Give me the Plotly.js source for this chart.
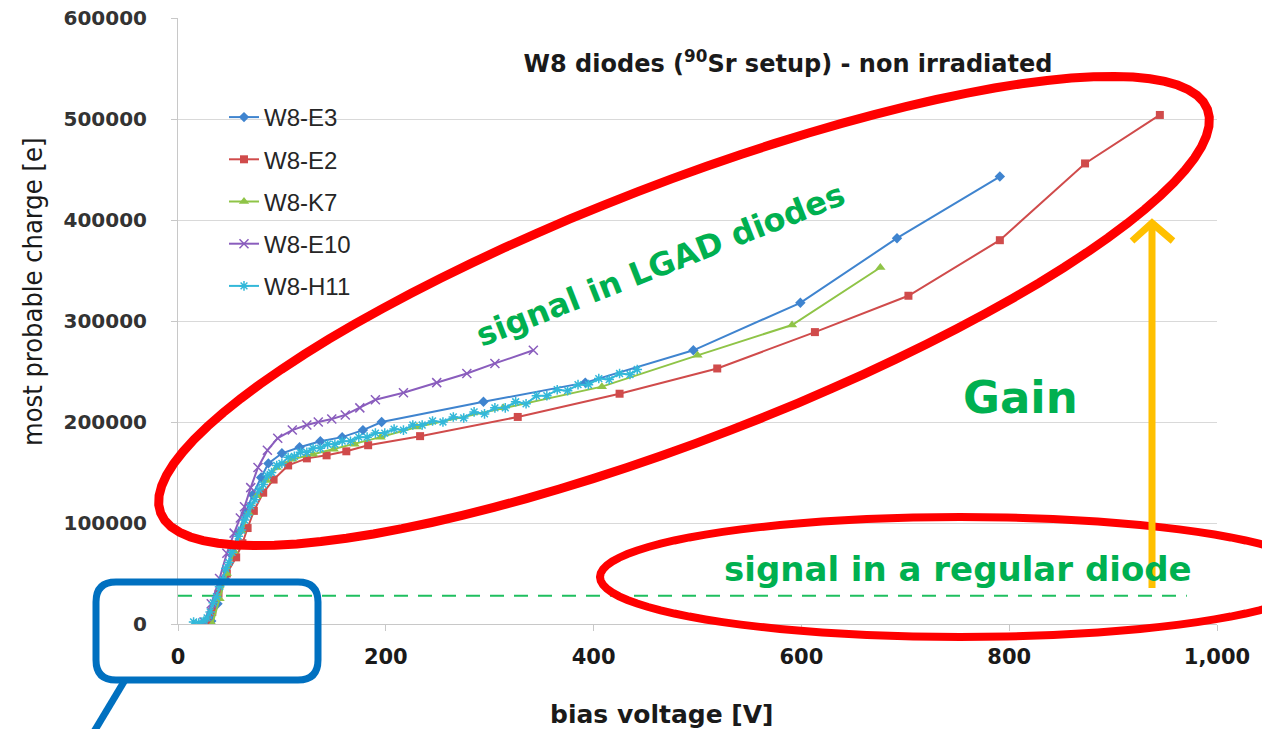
<!DOCTYPE html>
<html>
<head>
<meta charset="utf-8">
<script src="https://cdn.plot.ly/plotly-3.0.1.min.js"></script>
<style>
  html, body { margin: 0; padding: 0; background: #ffffff; }
  #chart { width: 1262px; height: 729px; }
</style>
</head>
<body>
<div id="chart"></div>
<script>
// ---- measured data: bias voltage [V] vs most probable charge [e] ----
const voltE3   = [32, 38, 45, 52, 58, 65, 72, 80, 87, 100, 117, 137, 158, 178, 196, 294, 392, 496, 599, 692, 791];
const chargeE3 = [3000, 20000, 45000, 68000, 90000, 110000, 128000, 145000, 159000, 169000, 175000, 181000, 185000, 192000, 200000, 220000, 239000, 271000, 318000, 382000, 443000];

const voltE2   = [28, 33, 39, 47, 56, 62, 67, 73, 82, 92, 106, 124, 143, 162, 183, 233, 327, 425, 519, 613, 703, 791, 873, 945];
const chargeE2 = [2000, 12000, 30000, 50000, 66000, 80000, 95000, 112000, 130000, 143000, 157000, 164000, 167000, 171000, 177000, 186000, 205000, 228000, 253000, 289000, 325000, 380000, 456000, 504000];

const voltK7   = [33, 40, 47, 54, 61, 68, 76, 85, 95, 110, 130, 150, 170, 195, 230, 313, 408, 500, 591, 676];
const chargeK7 = [0, 25000, 50000, 72000, 92000, 110000, 127000, 142000, 155000, 163000, 168000, 173000, 178000, 185000, 195000, 214000, 235000, 266000, 296000, 353000];

const voltE10   = [25, 32, 40, 47, 54, 60, 64, 70, 77, 86, 96, 110, 124, 135, 148, 161, 175, 190, 217, 249, 278, 305, 342];
const chargeE10 = [2000, 20000, 45000, 70000, 90000, 105000, 116000, 135000, 155000, 172000, 184000, 192000, 197000, 200000, 203000, 207000, 214000, 222000, 229000, 239000, 248000, 258000, 271000];

const voltH11   = [15, 20, 25, 28, 31, 34, 37, 40, 43, 46, 49, 52, 55, 58, 61, 64, 67, 70, 74, 78, 82, 86, 90, 95, 100, 106, 112, 118, 124, 130, 137, 144, 151, 158, 166, 174, 182, 190, 199, 208, 217, 226, 235, 245, 255, 265, 275, 285, 295, 305, 315, 325, 335, 345, 355, 365, 375, 385, 395, 405, 415, 425, 435, 442];
const chargeH11 = [2000, 1000, 3000, 6000, 12000, 21000, 27000, 37000, 44000, 55000, 61000, 71000, 77000, 87000, 93000, 103000, 108000, 117000, 123000, 133000, 138000, 147000, 150000, 157000, 159000, 165000, 166000, 170000, 170000, 174000, 174000, 178000, 178000, 181000, 181000, 185000, 185000, 189000, 189000, 193000, 192000, 197000, 197000, 201000, 200000, 205000, 204000, 210000, 208000, 214000, 214000, 220000, 218000, 226000, 226000, 232000, 231000, 237000, 237000, 243000, 242000, 248000, 247000, 252000];

// charge level of a regular (no gain) diode
const regularDiodeSignal = [28000];
const regularDiodeRange  = [0, 971];

// ---- plot-area geometry (pixels) used for the overlay drawings ----
const W = 1262, H = 729;
const plotLeft = 178, plotTop = 18, plotW = 1039, plotH = 606;
const px = X => (X - plotLeft) / plotW;
const py = Y => (plotTop + plotH - Y) / plotH;
const pt = (X, Y) => px(X).toFixed(5) + ',' + py(Y).toFixed(5);

function ellipsePath(cx, cy, a, b, deg) {
  const th = deg * Math.PI / 180;
  const ux = Math.cos(th), uy = -Math.sin(th);
  const vx = Math.sin(th), vy = Math.cos(th);
  let d = '';
  for (let i = 0; i <= 96; i++) {
    const t = 2 * Math.PI * i / 96;
    const X = cx + a * Math.cos(t) * ux + b * Math.sin(t) * vx;
    const Y = cy + a * Math.cos(t) * uy + b * Math.sin(t) * vy;
    d += (i === 0 ? 'M' : 'L') + pt(X, Y);
  }
  return d + 'Z';
}

function roundedBox(x0, y0, x1, y1, r) {
  return 'M' + pt(x0 + r, y0) + 'L' + pt(x1 - r, y0) +
         'Q' + pt(x1, y0) + ' ' + pt(x1, y0 + r) +
         'L' + pt(x1, y1 - r) +
         'Q' + pt(x1, y1) + ' ' + pt(x1 - r, y1) +
         'L' + pt(x0 + r, y1) +
         'Q' + pt(x0, y1) + ' ' + pt(x0, y1 - r) +
         'L' + pt(x0, y0 + r) +
         'Q' + pt(x0, y0) + ' ' + pt(x0 + r, y0) + 'Z';
}

const colors = {
  E3: '#3f84cf', E2: '#d04b4b', K7: '#8fc447', E10: '#8a5dbd', H11: '#33b8d9'
};

function series(name, x, y, color, symbol, size, lineW) {
  return {
    type: 'scatter', mode: 'lines+markers', name: name, x: x, y: y,
    legendgroup: name,
    line: { color: color, width: 2 },
    marker: { color: color, symbol: symbol, size: size, line: { color: color, width: lineW } }
  };
}

const traces = [
  series('W8-E3',  voltE3,  chargeE3,  colors.E3,  'diamond', 8, 0),
  series('W8-E2',  voltE2,  chargeE2,  colors.E2,  'square', 8, 0),
  series('W8-K7',  voltK7,  chargeK7,  colors.K7,  'triangle-up', 9, 0),
  series('W8-E10', voltE10, chargeE10, colors.E10, 'x-thin-open', 9, 1.5),
  series('W8-H11', voltH11, chargeH11, colors.H11, 'asterisk-open', 8, 1.5)
];

const green = '#00b050';

const shapes = [
  // regular diode level
  { type: 'line', xref: 'x', yref: 'y', layer: 'below',
    x0: regularDiodeRange[0], x1: regularDiodeRange[1], y0: regularDiodeSignal[0], y1: regularDiodeSignal[0],
    line: { color: '#1fbf5f', width: 2, dash: '14px,10px' } },
  // LGAD ellipse
  { type: 'path', xref: 'paper', yref: 'paper', layer: 'above',
    path: ellipsePath(684, 311, 561, 128, 21.1),
    line: { color: '#ff0000', width: 9 } },
  // regular diode ellipse
  { type: 'path', xref: 'paper', yref: 'paper', layer: 'above',
    path: ellipsePath(960, 577, 360, 60, 0),
    line: { color: '#ff0000', width: 8 } },
  // origin callout box
  { type: 'path', xref: 'paper', yref: 'paper', layer: 'above',
    path: roundedBox(96, 582, 318, 680, 20),
    line: { color: '#0070c0', width: 7 } },
  { type: 'path', xref: 'paper', yref: 'paper', layer: 'above',
    path: 'M' + pt(125, 680) + 'L' + pt(86, 745),
    line: { color: '#0070c0', width: 7 } },
  // gain arrow
  { type: 'path', xref: 'paper', yref: 'paper', layer: 'above',
    path: 'M' + pt(1152, 588) + 'L' + pt(1152, 226),
    line: { color: '#ffc000', width: 7 } },
  { type: 'path', xref: 'paper', yref: 'paper', layer: 'above',
    path: 'M' + pt(1132, 241) + 'L' + pt(1152, 223) + 'L' + pt(1173, 241),
    line: { color: '#ffc000', width: 7 } }
];

function note(X, Y, text, font, angle) {
  return { xref: 'paper', yref: 'paper', x: px(X), y: py(Y),
           xanchor: 'center', yanchor: 'middle', showarrow: false,
           textangle: angle || 0, text: text, font: font };
}

const annotations = [
  note(32, 292, 'most probable charge [e]',
       { family: 'Liberation Sans Narrow, DejaVu Sans Condensed, sans-serif', size: 27, color: '#1a1a1a' }, -90),
  note(662, 714, '<b>bias voltage [V]</b>',
       { family: 'DejaVu Sans, sans-serif', size: 25, color: '#1a1a1a' }),
  note(660, 265, '<b>signal in LGAD diodes</b>',
       { family: 'DejaVu Sans, sans-serif', size: 32, color: green }, -21.5),
  note(1020, 397, '<b>Gain</b>',
       { family: 'DejaVu Sans, sans-serif', size: 45, color: green }),
  note(958, 569, '<b>signal in a regular diode</b>',
       { family: 'DejaVu Sans, sans-serif', size: 34, color: green })
];

const layout = {
  width: W, height: H,
  margin: { l: plotLeft, r: W - plotLeft - plotW, t: plotTop, b: H - plotTop - plotH },
  paper_bgcolor: '#ffffff', plot_bgcolor: '#ffffff',
  title: {
    text: '<b>W8 diodes (<sup>90</sup>Sr setup) - non irradiated</b>',
    xref: 'paper', x: px(788), xanchor: 'center',
    yref: 'container', y: 1 - 64 / H, yanchor: 'middle',
    font: { family: 'DejaVu Sans, sans-serif', size: 24, color: '#1a1a1a' }
  },
  xaxis: {
    range: [0, 1000], dtick: 200, tick0: 0, tickformat: ',d',
    showgrid: false, zeroline: false,
    showline: true, linecolor: '#c8c8c8', linewidth: 1,
    ticks: 'outside', ticklen: 6, tickcolor: '#c8c8c8',
    ticklabelstandoff: 8,
    tickfont: { family: 'DejaVu Sans, sans-serif', size: 21, color: '#1a1a1a', weight: 'bold' }
  },
  yaxis: {
    range: [0, 600000], dtick: 100000, tick0: 0, tickformat: 'd',
    showgrid: true, gridcolor: '#d9d9d9', gridwidth: 1, zeroline: false,
    showline: true, linecolor: '#c8c8c8', linewidth: 1,
    ticks: 'outside', ticklen: 6, tickcolor: '#c8c8c8',
    ticklabelstandoff: 20,
    tickfont: { family: 'DejaVu Sans, sans-serif', size: 20, color: '#333333', weight: 'bold' }
  },
  legend: {
    x: px(224), y: py(95), xanchor: 'left', yanchor: 'top',
    bgcolor: 'rgba(255,255,255,0)', borderwidth: 0,
    tracegroupgap: 8,
    font: { family: 'Liberation Sans, Arial, sans-serif', size: 24, color: '#262626' }
  },
  shapes: shapes,
  annotations: annotations,
  showlegend: true
};

Plotly.newPlot('chart', traces, layout, { displayModeBar: false, staticPlot: true });
</script>
</body>
</html>
